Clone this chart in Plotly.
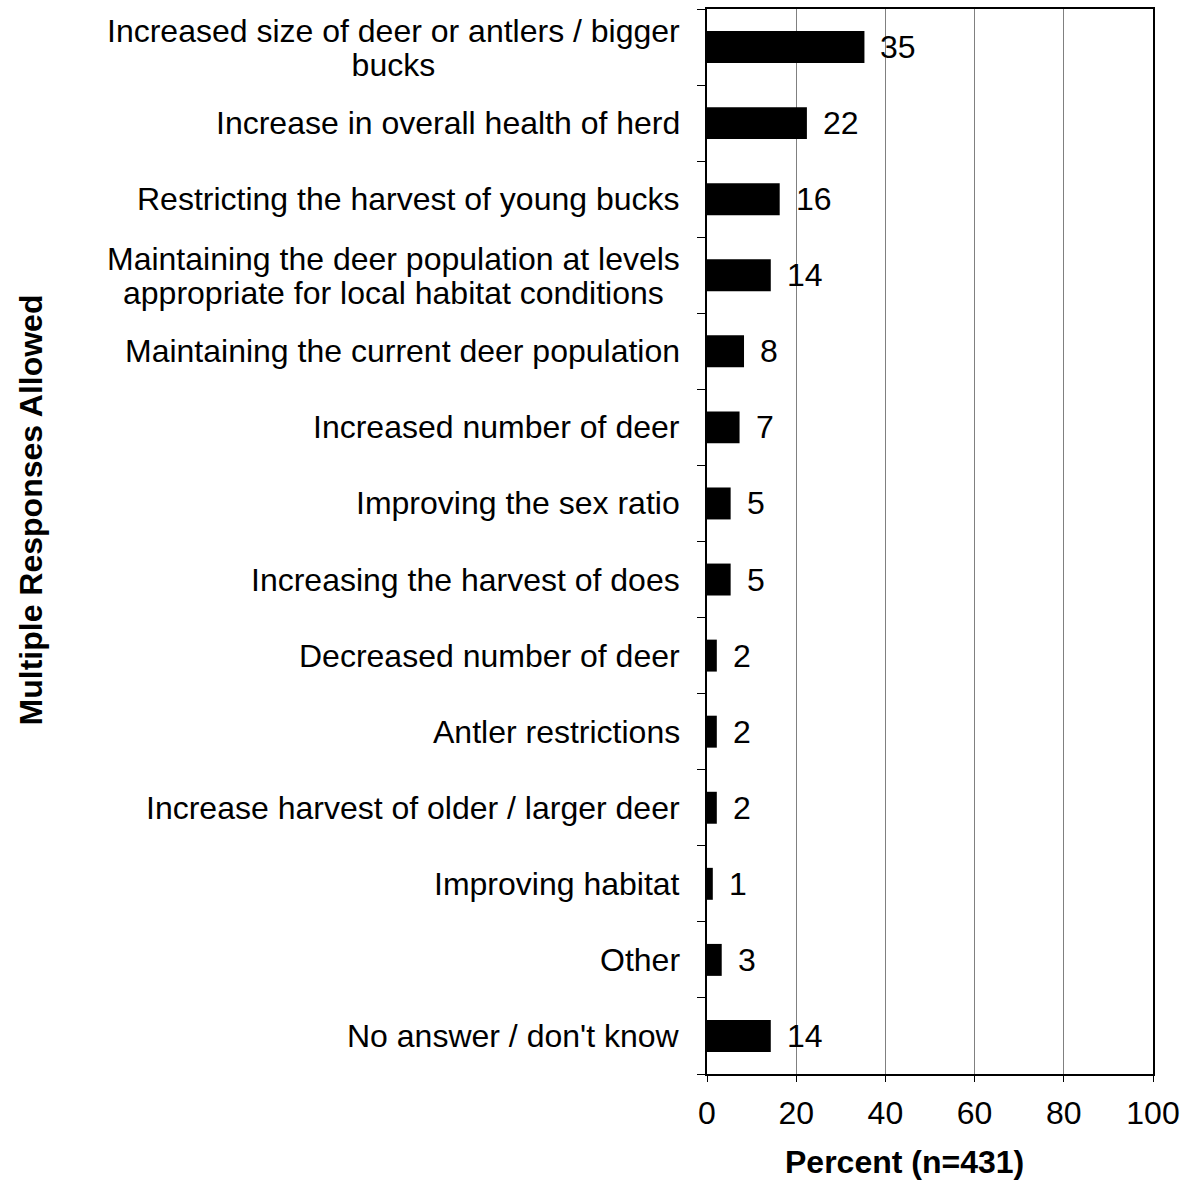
import plotly.graph_objects as go

categories = [
    "Increased size of deer or antlers / bigger<br>bucks",
    "Increase in overall health of herd",
    "Restricting the harvest of young bucks",
    "Maintaining the deer population at levels<br>appropriate for local habitat conditions",
    "Maintaining the current deer population",
    "Increased number of deer",
    "Improving the sex ratio",
    "Increasing the harvest of does",
    "Decreased number of deer",
    "Antler restrictions",
    "Increase harvest of older / larger deer",
    "Improving habitat",
    "Other",
    "No answer / don't know",
]
values = [35.3, 22.4, 16.3, 14.3, 8.3, 7.3, 5.3, 5.3, 2.2, 2.2, 2.2, 1.3, 3.3, 14.3]
x_ticks = [0, 20, 40, 60, 80, 100]
x_title = "Percent (n=431)"
y_title = "Multiple Responses Allowed"

FONT = "Liberation Sans, Arial, Helvetica, sans-serif"
FS = 32
LINE_FS = 26  # controls line spacing of wrapped labels (1.3 * 26 ~ 34px)

fig = go.Figure()
fig.add_trace(go.Bar(
    x=values, y=categories, orientation="h",
    marker=dict(color="black", line=dict(width=0)),
    hoverinfo="x+y",
))

annotations = []
for c, v in zip(categories, values):
    annotations.append(dict(
        x=v, y=c, xref="x", yref="y", text=str(round(v)),
        xanchor="left", yanchor="middle", xshift=14, showarrow=False,
        font=dict(family=FONT, size=FS, color="black"),
    ))
    lines = c.split("<br>")
    if len(lines) == 1:
        annotations.append(dict(
            x=0, y=c, xref="paper", yref="y", text=c, align="center",
            xanchor="right", yanchor="middle", xshift=-25, showarrow=False,
            font=dict(family=FONT, size=FS, color="black"),
        ))
    else:
        txt = "<br>".join('<span style="font-size:%dpx">%s</span>' % (FS, ln) for ln in lines)
        annotations.append(dict(
            x=0, y=c, xref="paper", yref="y", text=txt, align="center",
            xanchor="right", yanchor="middle", xshift=-25, yshift=-1, showarrow=False,
            font=dict(family=FONT, size=LINE_FS, color="black"),
        ))

annotations.append(dict(
    x=0.443, y=-0.083, xref="paper", yref="paper", text="<b>" + x_title + "</b>",
    xanchor="center", yanchor="middle", showarrow=False,
    font=dict(family=FONT, size=FS, color="black"),
))
annotations.append(dict(
    x=-1.516, y=0.53, xref="paper", yref="paper", text="<b>" + y_title + "</b>",
    textangle=-90, xanchor="center", yanchor="middle", showarrow=False,
    font=dict(family=FONT, size=FS, color="black"),
))

fig.update_layout(
    width=1185, height=1184,
    margin=dict(l=707, r=32, t=9, b=110, pad=0, autoexpand=False),
    paper_bgcolor="white", plot_bgcolor="white",
    showlegend=False,
    bargap=0.58,
    font=dict(family=FONT, size=FS, color="black"),
    annotations=annotations,
)
fig.update_xaxes(
    range=[0, 100], tickvals=x_ticks, ticktext=[str(t) for t in x_ticks],
    showgrid=True, gridcolor="#808080", gridwidth=1,
    showline=True, linecolor="black", linewidth=2, mirror=True,
    ticks="outside", ticklen=6, tickcolor="black", tickwidth=1,
    tickfont=dict(family=FONT, size=FS, color="black"),
    ticklabelstandoff=4, automargin=False,
    zeroline=False, fixedrange=True,
)
fig.update_yaxes(
    categoryorder="array", categoryarray=categories[::-1],
    autorange=False, range=[-0.5, len(categories) - 0.5],
    showticklabels=False, tickson="boundaries",
    ticks="outside", ticklen=8, tickcolor="black", tickwidth=1,
    showline=True, linecolor="black", linewidth=2, mirror=True,
    showgrid=False, zeroline=False, fixedrange=True, automargin=False,
)

fig.write_html(
    "out.html",
    config={"displayModeBar": False, "responsive": False},
    post_script="document.body.style.margin='0px';document.body.style.overflow='hidden';",
)
